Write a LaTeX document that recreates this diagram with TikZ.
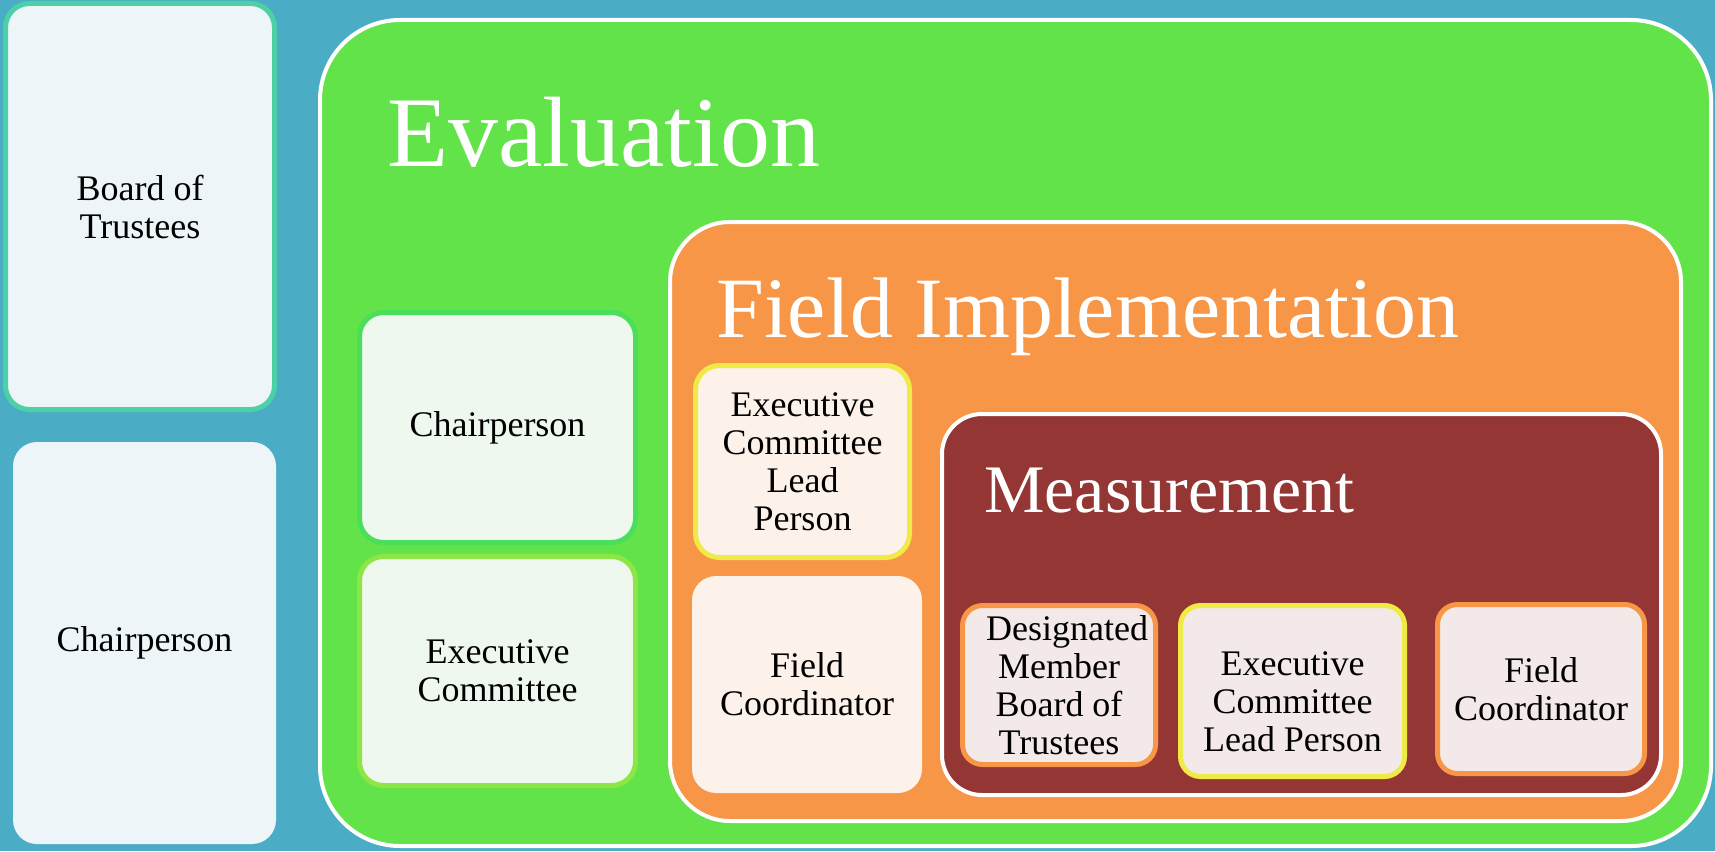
\documentclass[tikz,border=0pt]{standalone}
\usepackage{fontspec}
\setmainfont{Liberation Serif}
\definecolor{bgblue}{RGB}{75,172,198}
\definecolor{lightbox}{RGB}{237,245,248}
\definecolor{tealborder}{RGB}{76,208,166}
\definecolor{evalgreen}{RGB}{98,227,74}
\definecolor{greenfill}{RGB}{239,248,238}
\definecolor{greenborderA}{RGB}{74,222,90}
\definecolor{greenborderB}{RGB}{141,230,69}
\definecolor{implorange}{RGB}{247,150,70}
\definecolor{orangefill}{RGB}{253,242,234}
\definecolor{yellowborder}{RGB}{240,234,70}
\definecolor{measred}{RGB}{148,54,52}
\definecolor{measfill}{RGB}{243,233,233}
\tikzset{
  lbl/.style={font=\fontsize{36}{38}\selectfont, align=center, text=black},
  card/.style={rectangle, rounded corners=24pt, inner sep=0pt, lbl},
  bordered/.style={card, draw=#1, line width=5pt},
  panel/.style={rectangle, draw=white, line width=4pt, inner sep=0pt},
  title/.style={anchor=base west, inner sep=0pt, text=white}
}
\begin{document}
\begin{tikzpicture}[x=1pt,y=-1pt]
\fill[bgblue] (0,0) rectangle (1715,851);
\useasboundingbox (0,0) rectangle (1715,851);

% left column
\node[bordered=tealborder, fill=lightbox, minimum width=269pt, minimum height=406pt] (bot) at (140,206.5) {Board of\\Trustees};
\node[card, fill=lightbox, minimum width=263pt, minimum height=402pt] (chairL) at (144.5,643) {Chairperson};

% Evaluation panel
\node[panel, fill=evalgreen, rounded corners=80pt, minimum width=1391pt, minimum height=826pt] (eval) at (1015.5,433) {};
\node[title, font=\fontsize{100}{104}\selectfont] (evaltitle) at (387,166) {Evaluation};
\node[bordered=greenborderA, fill=greenfill, minimum width=276pt, minimum height=230pt] (chairE) at (497.5,427.5) {Chairperson};
\node[bordered=greenborderB, fill=greenfill, minimum width=276pt, minimum height=229pt] (execE) at (497.5,671) {Executive\\Committee};

% Field Implementation panel
\node[panel, fill=implorange, rounded corners=60pt, minimum width=1011pt, minimum height=599pt] (impl) at (1175.5,521.5) {};
\node[title, font=\fontsize{86}{90}\selectfont] (impltitle) at (716,337) {Field Implementation};
\node[bordered=yellowborder, fill=orangefill, minimum width=214pt, minimum height=192pt] (eclpI) at (802.5,461.5) {Executive\\Committee\\Lead\\Person};
\node[card, fill=orangefill, minimum width=230pt, minimum height=217pt] (fcI) at (807,684.5) {Field\\Coordinator};

% Measurement panel
\node[panel, fill=measred, rounded corners=40pt, minimum width=719pt, minimum height=381pt] (meas) at (1301.5,604.5) {};
\node[title, font=\fontsize{68}{72}\selectfont] (meastitle) at (984,512) {Measurement};
\node[bordered=implorange, fill=measfill, rounded corners=20pt, minimum width=193pt, minimum height=159pt] (dmM) at (1059,685) {\hspace*{16pt}Designated\\Member\\Board of\\Trustees};
\node[bordered=yellowborder, fill=measfill, rounded corners=20pt, minimum width=224pt, minimum height=171pt,
      label={[lbl, yshift=-11pt]center:Executive\\Committee\\Lead Person}] (eclpM) at (1292.5,691) {};
\node[bordered=implorange, fill=measfill, rounded corners=20pt, minimum width=207pt, minimum height=169pt] (fcM) at (1541,689) {Field\\Coordinator};
\end{tikzpicture}
\end{document}
